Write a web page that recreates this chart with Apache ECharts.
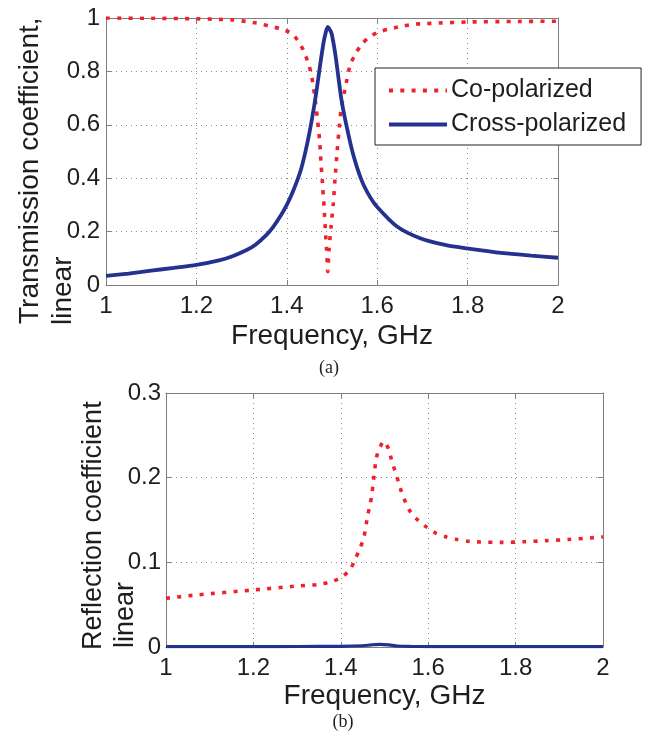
<!DOCTYPE html>
<html>
<head>
<meta charset="utf-8">
<script src="https://cdn.jsdelivr.net/npm/echarts@6/dist/echarts.min.js"></script>
<style>
html,body{margin:0;padding:0;background:#fff;}
#c{width:645px;height:736px;}
</style>
</head>
<body>
<div id="c"></div>
<script>
// ---- Data ----
var seriesNames = ['Co-polarized', 'Cross-polarized'];
var xTicks = [1, 1.2, 1.4, 1.6, 1.8, 2];

// (a) Transmission, co-polarized
var transCoFreq = [1.00,1.10,1.20,1.25,1.28,1.31,1.34,1.36,1.385,1.41,1.425,1.438,1.447,1.454,1.458,1.462,1.465,1.468,1.4705,1.473,1.4745,1.476,1.478,1.4795,1.4815,1.483,1.4845,1.486,1.4875,1.489,1.4905,1.4935,1.498,1.503,1.5066,1.5104,1.5148,1.520,1.5295,1.540,1.5516,1.565,1.583,1.606,1.630,1.658,1.684,1.709,1.735,1.80,1.90,2.00];
var transCoVal  = [1.000,0.999,0.997,0.995,0.993,0.987,0.979,0.970,0.960,0.943,0.914,0.875,0.833,0.792,0.750,0.705,0.662,0.620,0.578,0.533,0.490,0.448,0.406,0.361,0.318,0.276,0.231,0.187,0.143,0.100,0.050,0.135,0.221,0.308,0.396,0.480,0.568,0.655,0.739,0.823,0.864,0.900,0.930,0.949,0.960,0.970,0.977,0.979,0.981,0.985,0.987,0.988];

// (a) Transmission, cross-polarized
var transXFreq = [1.00,1.05,1.10,1.15,1.20,1.25,1.28,1.31,1.33,1.355,1.37,1.386,1.40,1.414,1.43,1.44,1.45,1.46,1.466,1.473,1.481,1.486,1.4905,1.494,1.499,1.507,1.514,1.521,1.5325,1.547,1.566,1.584,1.60,1.643,1.695,1.75,1.798,1.879,1.94,2.00];
var transXVal  = [0.034,0.043,0.054,0.064,0.075,0.092,0.108,0.130,0.150,0.188,0.218,0.258,0.300,0.352,0.425,0.490,0.570,0.665,0.730,0.815,0.905,0.945,0.967,0.960,0.943,0.868,0.780,0.693,0.593,0.488,0.390,0.330,0.292,0.220,0.175,0.150,0.137,0.119,0.110,0.102];

// (b) Reflection, co-polarized
var reflCoFreq = [1.00,1.069,1.198,1.30,1.351,1.383,1.406,1.423,1.433,1.444,1.453,1.461,1.467,1.471,1.474,1.48,1.486,1.499,1.51,1.516,1.524,1.532,1.539,1.549,1.56,1.578,1.598,1.619,1.642,1.666,1.691,1.719,1.77,1.82,1.87,1.92,1.97,2.00];
var reflCoVal  = [0.0575,0.0614,0.0673,0.072,0.074,0.078,0.0839,0.093,0.104,0.1166,0.130,0.154,0.168,0.180,0.193,0.219,0.232,0.243,0.233,0.221,0.208,0.195,0.183,0.170,0.159,0.149,0.141,0.134,0.130,0.127,0.125,0.124,0.1236,0.1244,0.1256,0.127,0.1288,0.130];

// (b) Reflection, cross-polarized
var reflXFreq = [1.00,1.20,1.30,1.40,1.45,1.47,1.49,1.51,1.53,1.56,1.60,1.80,2.00];
var reflXVal  = [0.0005,0.0005,0.0006,0.0008,0.0015,0.0025,0.0032,0.0025,0.0012,0.0007,0.0005,0.0004,0.0004];

function pairs(xs, ys){ return xs.map(function(x,i){ return [x, ys[i]]; }); }

// ---- Styles ----
var FONT = '"Liberation Sans", Arial, Helvetica, sans-serif';
var RED = '#f0202c';
var BLUE = '#25318f';
var AXIS_GRAY = '#7f7f7f';
var TXT = '#1e1e1e';
var DOT = [4, 7.3];

function fmt(v){ return String(+(+v).toFixed(2)); }

function mainX(gridIndex, nameGap){
  return {
    type:'value', gridIndex:gridIndex, min:1, max:2, interval:0.2, position:'bottom',
    name:'Frequency, GHz', nameLocation:'middle', nameGap:nameGap,
    nameTextStyle:{fontFamily:FONT, fontSize:28, color:TXT},
    axisLine:{show:true, onZero:false, lineStyle:{color:AXIS_GRAY, width:1}},
    axisTick:{show:true, inside:true, length:5, lineStyle:{color:AXIS_GRAY}},
    axisLabel:{fontFamily:FONT, fontSize:24, color:TXT, margin:9, formatter:fmt},
    splitLine:{show:true, lineStyle:{color:'#8a8a8a', width:1, type:[1,4]}}
  };
}
function mirrorX(gridIndex){
  return {
    type:'value', gridIndex:gridIndex, min:1, max:2, interval:0.2, position:'top',
    axisLine:{show:true, onZero:false, lineStyle:{color:AXIS_GRAY, width:1}},
    axisTick:{show:true, inside:true, length:5, lineStyle:{color:AXIS_GRAY}},
    axisLabel:{show:false}, splitLine:{show:false}
  };
}
function mainY(gridIndex, max, interval, margin){
  return {
    type:'value', gridIndex:gridIndex, min:0, max:max, interval:interval, position:'left',
    axisLine:{show:true, onZero:false, lineStyle:{color:AXIS_GRAY, width:1}},
    axisTick:{show:true, inside:true, length:5, lineStyle:{color:AXIS_GRAY}},
    axisLabel:{fontFamily:FONT, fontSize:24, color:TXT, margin:margin, formatter:fmt},
    splitLine:{show:true, lineStyle:{color:'#8a8a8a', width:1, type:[1,4]}}
  };
}
function mirrorY(gridIndex, max, interval){
  return {
    type:'value', gridIndex:gridIndex, min:0, max:max, interval:interval, position:'right',
    axisLine:{show:true, onZero:false, lineStyle:{color:AXIS_GRAY, width:1}},
    axisTick:{show:true, inside:true, length:5, lineStyle:{color:AXIS_GRAY}},
    axisLabel:{show:false}, splitLine:{show:false}
  };
}
function coSeries(xi, yi, data){
  return {
    name:seriesNames[0], type:'line', xAxisIndex:xi, yAxisIndex:yi, data:data,
    showSymbol:false, symbol:'none', smooth:0.25, clip:true, silent:true,
    lineStyle:{color:RED, width:3.6, type:DOT, cap:'butt'},
    itemStyle:{color:RED}, z:3
  };
}
function xSeries(xi, yi, data, w){
  return {
    name:seriesNames[1], type:'line', xAxisIndex:xi, yAxisIndex:yi, data:data,
    showSymbol:false, symbol:'none', smooth:0.25, clip:true, silent:true,
    lineStyle:{color:BLUE, width:w}, itemStyle:{color:BLUE}, z:4
  };
}

var chart = echarts.init(document.getElementById('c'), null, {renderer:'canvas'});
chart.setOption({
  animation:false,
  backgroundColor:'#ffffff',
  grid:[
    {left:106, top:18, width:452, height:267, show:false},
    {left:166, top:393, width:437, height:254, show:false}
  ],
  xAxis:[ mainX(0, 37), mirrorX(0), mainX(1, 35), mirrorX(1) ],
  yAxis:[ mainY(0, 1, 0.2, 6), mirrorY(0, 1, 0.2), mainY(1, 0.3, 0.1, 5), mirrorY(1, 0.3, 0.1) ],
  legend:{
    show:true, orient:'vertical', left:375, top:68,
    data:[
      {name:seriesNames[0], lineStyle:{color:RED, width:3.8, type:DOT, cap:'butt'}},
      {name:seriesNames[1], lineStyle:{color:BLUE, width:4, type:'solid'}}
    ],
    backgroundColor:'#ffffff', borderColor:'#222', borderWidth:1,
    padding:[10,15,8,12], itemGap:9, itemWidth:58, itemHeight:24,
    itemStyle:{opacity:0},
    textStyle:{fontFamily:FONT, fontSize:25, color:TXT, padding:[0,0,0,-1]},
    selectedMode:false
  },
  series:[
    coSeries(0, 0, pairs(transCoFreq, transCoVal)),
    xSeries(0, 0, pairs(transXFreq, transXVal), 3.8),
    coSeries(2, 2, pairs(reflCoFreq, reflCoVal)),
    xSeries(2, 2, pairs(reflXFreq, reflXVal), 3.2)
  ],
  graphic:[
    {type:'text', x:30, y:324, rotation:Math.PI/2,
      style:{text:'Transmission coefficient,', font:'28px '+FONT, fill:TXT, textAlign:'left', textVerticalAlign:'middle'}},
    {type:'text', x:63, y:325, rotation:Math.PI/2,
      style:{text:'linear', font:'28px '+FONT, fill:TXT, textAlign:'left', textVerticalAlign:'middle'}},
    {type:'text', x:94, y:650, rotation:Math.PI/2,
      style:{text:'Reflection coefficient', font:'27px '+FONT, fill:TXT, textAlign:'left', textVerticalAlign:'middle'}},
    {type:'text', x:126, y:648, rotation:Math.PI/2,
      style:{text:'linear', font:'27px '+FONT, fill:TXT, textAlign:'left', textVerticalAlign:'middle'}},
    {type:'text', x:329, y:368,
      style:{text:'(a)', font:'18px "Liberation Serif", "Times New Roman", serif', fill:TXT, textAlign:'center', textVerticalAlign:'middle'}},
    {type:'text', x:343, y:722,
      style:{text:'(b)', font:'18px "Liberation Serif", "Times New Roman", serif', fill:TXT, textAlign:'center', textVerticalAlign:'middle'}}
  ]
});
</script>
</body>
</html>
